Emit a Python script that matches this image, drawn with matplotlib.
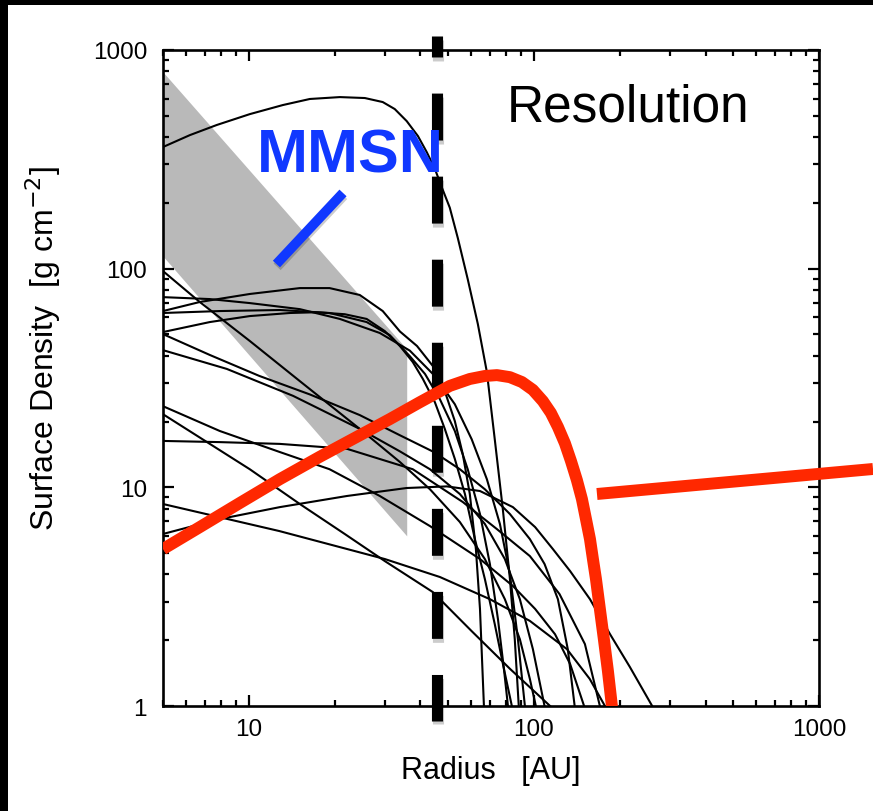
import numpy as np
import matplotlib.pyplot as plt
from matplotlib.lines import Line2D
from matplotlib.patches import Rectangle
from matplotlib.ticker import FixedLocator, NullFormatter
import matplotlib.patheffects as pe

plt.rcParams['font.family'] = ['Liberation Sans', 'DejaVu Sans']
plt.rcParams['lines.scale_dashes'] = False

# MMSN band: radius range with upper / lower surface density
mmsn_r = [5.0, 35.8]
mmsn_hi = [793, 42.9]
mmsn_lo = [114, 6.0]

# fitted disk profiles, radius [AU] and surface density [g cm^-2]
r1 = [5, 6.21, 7.72, 10.08, 13.16, 16.37, 20.86, 25.53, 29.5, 32.5, 35.8, 39.2, 42.1,
      44.95, 47.5, 50.7, 54.1, 58.6, 63.6, 68.4, 72.9, 77.8, 82.4, 85.7, 88.5]
s1 = [360, 408, 454, 509, 560, 597, 609, 603, 578, 537, 473, 404, 341,
      286, 236, 190, 138, 89.6, 55.8, 33.7, 16.6, 7.96, 3.81, 2.02, 1.0]
r2 = [5, 6.73, 10.08, 15.1, 24.5, 33.9, 43.2, 55.0, 67.3, 79.1, 89.3, 96.8, 101.6]
s2 = [97.5, 70.4, 46.7, 30.6, 18.5, 13.05, 9.8, 6.94, 4.70, 3.08, 2.02, 1.33, 1.0]
r3 = [5, 7.30, 10.08, 15.1, 20.86, 28.8, 36.7, 44.95, 52.8, 60.5, 68.4, 76.0, 82.4, 87.9, 93.0]
s3 = [74.1, 72.6, 69.6, 65.3, 58.9, 50.8, 42.2, 32.3, 24.0, 16.6, 10.9, 6.8, 4.01, 2.02, 1.0]
r4 = [5, 6.73, 10.08, 15.1, 19.2, 24.5, 29.5, 33.9, 38.9, 44.2, 48.7, 52.8, 56.3, 59.6,
      62.6, 64.7, 66.8]
s4 = [64.0, 70.4, 76.6, 81.5, 81.5, 75.8, 64.0, 51.6, 44.3, 35.9, 27.5, 20.1, 14.2, 9.32,
      5.22, 2.78, 1.0]
r5 = [5, 7.91, 12.85, 19.2, 25.9, 31.2, 36.7, 41.5, 46.8, 52.8, 58.6, 64.7, 70.1, 74.8,
      78.5, 81.1]
s5 = [62.7, 64.0, 64.7, 62.7, 57.0, 49.7, 39.8, 33.0, 25.3, 18.1, 12.1, 7.55, 4.46, 2.50,
      1.48, 1.0]
r6 = [5, 7.30, 10.08, 13.93, 17.3, 21.7, 25.9, 30.0, 33.9, 37.6, 40.8, 44.95, 48.7, 52.8,
      57.3, 62.1, 67.3, 72.9, 78.5, 83.7]
s6 = [51.3, 57.0, 60.7, 62.7, 63.2, 61.9, 58.9, 51.8, 44.3, 37.4, 31.3, 24.5, 18.5, 13.5,
      9.32, 5.80, 3.81, 2.37, 1.48, 1.0]
r7 = [5, 7.30, 10.9, 16.37, 24.5, 33.9, 44.6, 55.0, 67.3, 82.4, 96.8, 109, 121.4, 131.5, 139]
s7 = [50.2, 40.3, 32.3, 26.6, 21.4, 17.3, 14.5, 12.1, 9.8, 7.55, 5.80, 4.46, 3.08, 1.82, 1.0]
r8 = [5, 8.37, 14.3, 24.5, 33.9, 43.2, 55.0, 67.3, 79.1, 89.3, 99.2, 109]
s8 = [42.4, 34.8, 26.2, 18.5, 14.6, 12.1, 9.32, 6.8, 4.70, 3.08, 1.82, 1.0]
r9 = [5, 7.91, 12.85, 19.2, 28.8, 43.2, 64.7, 84.4, 101, 118.6, 134, 150]
s9 = [23.5, 18.1, 14.5, 12.1, 9.13, 6.65, 4.70, 3.54, 2.78, 2.13, 1.556, 1.0]
r10 = [5, 7.30, 10.08, 15.1, 21.7, 30.0, 44.2, 60.5, 82.4, 114]
s10 = [21.6, 15.8, 12.1, 8.39, 6.12, 4.60, 3.32, 2.20, 1.48, 1.0]
r11 = [5, 7.91, 12.85, 22.1, 37.6, 56.3, 74.1, 96.8, 123, 151, 170.4]
s11 = [16.3, 16.1, 15.8, 15.0, 12.1, 8.57, 6.45, 4.85, 3.25, 1.92, 1.0]
r12 = [5, 12.8, 30, 46.8, 70.1, 96.8, 130.6, 157, 177.5]
s12 = [8.39, 6.31, 4.7, 3.89, 3.08, 2.45, 1.82, 1.33, 1.0]
r13 = [5, 7.91, 12.85, 22.1, 35.8, 49.5, 64.7, 84.4, 101, 116.6, 134, 157.3, 185, 217, 260]
s13 = [6.12, 7.16, 8.12, 9.13, 9.93, 10.1, 9.62, 8.12, 6.58, 5.22, 4.14, 3.08, 2.13, 1.51, 1.0]

# resolved disk profile
red_r = [5, 6.73, 9.30, 12.85, 17.75, 24.5, 31.2, 39.8, 50.7, 59.6, 67.3, 74.2,
         82.4, 90.8, 99.2, 107.5, 114.7, 121.4, 128.5, 134.9, 141.5, 147.4, 152.3,
         157.3, 161.1, 165.1, 170.4, 176.0, 181.8, 187.8, 189.3]
red_s = [5.22, 6.58, 8.48, 10.9, 13.8, 17.3, 20.5, 24.5, 29.1, 31.3, 32.3, 32.6,
         31.9, 30.3, 27.9, 24.8, 21.9, 18.9, 15.9, 13.2, 10.8, 8.84, 7.16,
         5.80, 4.70, 3.81, 2.78, 2.02, 1.45, 1.0, 0.872]

# beam size
res_r = 45.8

xticks = [10, 100, 1000]
yticks = [1, 10, 100, 1000]

fig = plt.figure(figsize=(8.73, 8.12), dpi=100)
ax = fig.add_axes([0.1867, 0.1293, 0.7514, 0.8079])
ax.set_xscale('log')
ax.set_yscale('log')
ax.set_xlim(5, 1000)
ax.set_ylim(1, 1000)

ax.fill_between(mmsn_r, mmsn_lo, mmsn_hi, color='#b9b9b9', lw=0, zorder=1)

profiles = [(r1, s1), (r2, s2), (r3, s3), (r4, s4), (r5, s5), (r6, s6), (r7, s7),
            (r8, s8), (r9, s9), (r10, s10), (r11, s11), (r12, s12), (r13, s13)]
for r, s in profiles:
    ax.plot(r, s, color='k', lw=1.5, zorder=2, solid_joinstyle='round')

ax.plot([res_r, res_r], [1158, 0.854], color='k', lw=8, dash_capstyle='butt',
        linestyle=(18.7, (33.8, 26)), clip_on=False, zorder=3,
        path_effects=[pe.SimpleLineShadow(offset=(0.5, -2.5), shadow_color='k', alpha=0.2),
                      pe.Normal()])

ax.plot(red_r, red_s, color='#ff2800', lw=8.6, solid_capstyle='butt',
        solid_joinstyle='round', zorder=4)

# MMSN label with pointer
ax.plot([12.5, 21.4], [105, 222], color='#1038ff', lw=7, solid_capstyle='butt', zorder=5,
        path_effects=[pe.SimpleLineShadow(offset=(0.5, -2), shadow_color='k', alpha=0.2),
                      pe.Normal()])
ax.text(0.285, 0.8155, 'MMSN', transform=ax.transAxes, color='#1038ff', fontsize=44,
        fontweight='bold', ha='center', va='baseline', zorder=6)
ax.text(0.524, 0.892, 'Resolution', transform=ax.transAxes, color='k', fontsize=37,
        ha='left', va='baseline', zorder=6)

# pointer running off to the right
fig.add_artist(Line2D([0.6838, 1.0], [0.3904, 0.4212], color='#ff2800', lw=8.6,
                      solid_capstyle='butt'))

ax.xaxis.set_major_locator(FixedLocator(xticks))
ax.yaxis.set_major_locator(FixedLocator(yticks))
ax.set_xticklabels([str(v) for v in xticks])
ax.set_yticklabels([str(v) for v in yticks])
minors = [m * 10.0 ** e for e in range(0, 3) for m in range(2, 10)]
ax.xaxis.set_minor_locator(FixedLocator(minors))
ax.yaxis.set_minor_locator(FixedLocator(minors))
ax.xaxis.set_minor_formatter(NullFormatter())
ax.yaxis.set_minor_formatter(NullFormatter())
ax.tick_params(which='both', direction='in', top=True, right=True, width=1.6, colors='k')
ax.tick_params(which='major', length=8, labelsize=17.5)
ax.tick_params(which='minor', length=4)
ax.tick_params(axis='y', which='major', pad=11.5)
ax.tick_params(axis='x', which='major', pad=8.5)
for sp in ax.spines.values():
    sp.set_linewidth(1.9)

ax.set_xlabel('Radius   [AU]', fontsize=22, labelpad=11)
ax.set_ylabel('Surface Density  [g cm$^{-2}$]', fontsize=23)
ax.yaxis.set_label_coords(-0.152, 0.547)

# dark slide border along top and left
fig.add_artist(Rectangle((0, 1 - 6 / 812), 1, 6 / 812, transform=fig.transFigure,
                         color='k', lw=0))
fig.add_artist(Rectangle((0, 0), 8 / 873, 1, transform=fig.transFigure, color='k', lw=0))

fig.savefig('out.png', dpi=100)
